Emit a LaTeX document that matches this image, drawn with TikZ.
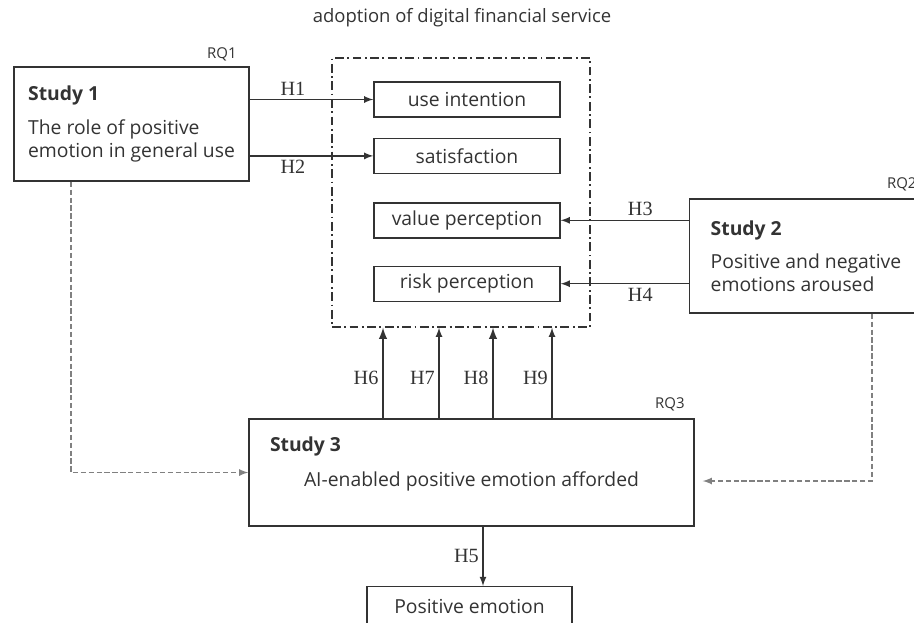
\documentclass[tikz,border=0pt]{standalone}
\usepackage{fontspec}
\setmainfont{Open Sans}
\newfontfamily\hypfont{Liberation Serif}
\usepackage{tikz}
\usetikzlibrary{positioning}
\definecolor{ink}{HTML}{333333}
\definecolor{lightink}{HTML}{808080}
\newcommand{\study}[2]{\textbf{#1}\\[6pt]#2}

\begin{document}
\begin{tikzpicture}[
    >=latex,
    every node/.style={text=ink, font=\fontsize{11}{13}\selectfont},
    box/.style={draw=ink, thick, rectangle, inner sep=0pt},
    measure/.style={box, minimum width=3.72cm, minimum height=0.7cm},
    hyp/.style={font=\hypfont\fontsize{11.5}{13}\selectfont, inner sep=2pt},
    rq/.style={font=\fontsize{8.5}{10}\selectfont, inner sep=1pt},
    link/.style={->, draw=ink, thick},
    feed/.style={->, draw=lightink, thick, dash pattern=on 3pt off 1.5pt}]

    \useasboundingbox (0,0) rectangle (18.28,-12.44);

    % outcome block
    \node (title) at (9.24,-0.36) {\fontsize{10.5}{12}\selectfont adoption of digital financial service};
    \node[box, dash pattern=on 5pt off 2pt on 1pt off 2pt, minimum width=5.16cm, minimum height=5.38cm] (adopt) at (9.22,-3.85) {};

    \node[measure] (ui) at (9.34,-1.99) {use intention};
    \node[measure, below=0.4 of ui] (sat) {satisfaction};
    \node[measure, below=0.56 of sat] (vp) {value perception};
    \node[measure, below=0.54 of vp] (rp) {risk perception};

    % studies
    \node[box, align=left, inner xsep=0.24cm, minimum width=4.7cm, minimum height=2.28cm] (s1) at (2.63,-2.48)
        {\study{Study 1}{The role of positive\\emotion in general use}};
    \node[box, align=left, inner xsep=0.42cm, minimum height=2.28cm, anchor=west] (s2) at (13.78,-5.12)
        {\study{Study 2}{Positive and negative\\emotions aroused}};
    \node[box, minimum width=8.9cm, minimum height=2.14cm] (s3) at (9.43,-9.45)
        {\parbox{8.06cm}{\textbf{Study 3}\par\vspace{7pt}\centering AI-enabled positive emotion afforded\par\vspace{10pt}}};
    \node[box, minimum width=4.1cm, minimum height=0.8cm, anchor=north] (pe) at (9.39,-11.72) {Positive emotion};

    \node[rq, above left=0.06 and 0.22 of s1.north east] (rq1) {RQ1};
    \node[rq, anchor=south west] (rq2) at ([shift={(3.92,0.1)}]s2.north west) {RQ2};
    \node[rq, above left=0.1 and 0.16 of s3.north east] (rq3) {RQ3};

    % hypotheses
    \draw[link] (ui -| s1.east) -- node[hyp, above, pos=0.35] {H1} (ui.west);
    \draw[link] (sat -| s1.east) -- node[hyp, below, pos=0.35] {H2} (sat.west);
    \draw[link] (vp -| s2.west) -- node[hyp, above, pos=0.38] {H3} (vp.east);
    \draw[link] (rp -| s2.west) -- node[hyp, below, pos=0.38] {H4} (rp.east);

    \coordinate (x5) at (9.66,0);
    \coordinate (x6) at (7.66,0);
    \coordinate (x7) at (8.78,0);
    \coordinate (x8) at (9.86,0);
    \coordinate (x9) at (11.04,0);
    \draw[link, line width=1.2pt] (x6 |- s3.north) -- node[hyp, left, pos=0.45] {H6} (x6 |- adopt.south);
    \draw[link] (x7 |- s3.north) -- node[hyp, left, pos=0.45] {H7} (x7 |- adopt.south);
    \draw[link, line width=1.2pt] (x8 |- s3.north) -- node[hyp, left, pos=0.45] {H8} (x8 |- adopt.south);
    \draw[link] (x9 |- s3.north) -- node[hyp, left, pos=0.45] {H9} (x9 |- adopt.south);
    \draw[link] (x5 |- s3.south) -- node[hyp, left] {H5} (x5 |- pe.north);

    % study 1 and 2 feed study 3
    \coordinate (x1) at (1.42,0);
    \coordinate (x2) at (17.44,0);
    \draw[feed] (x1 |- s1.south) |- (s3.west);
    \draw[feed] (x2 |- s2.south) |- ([shift={(0.16,-0.17)}]s3.east);

\end{tikzpicture}
\end{document}
